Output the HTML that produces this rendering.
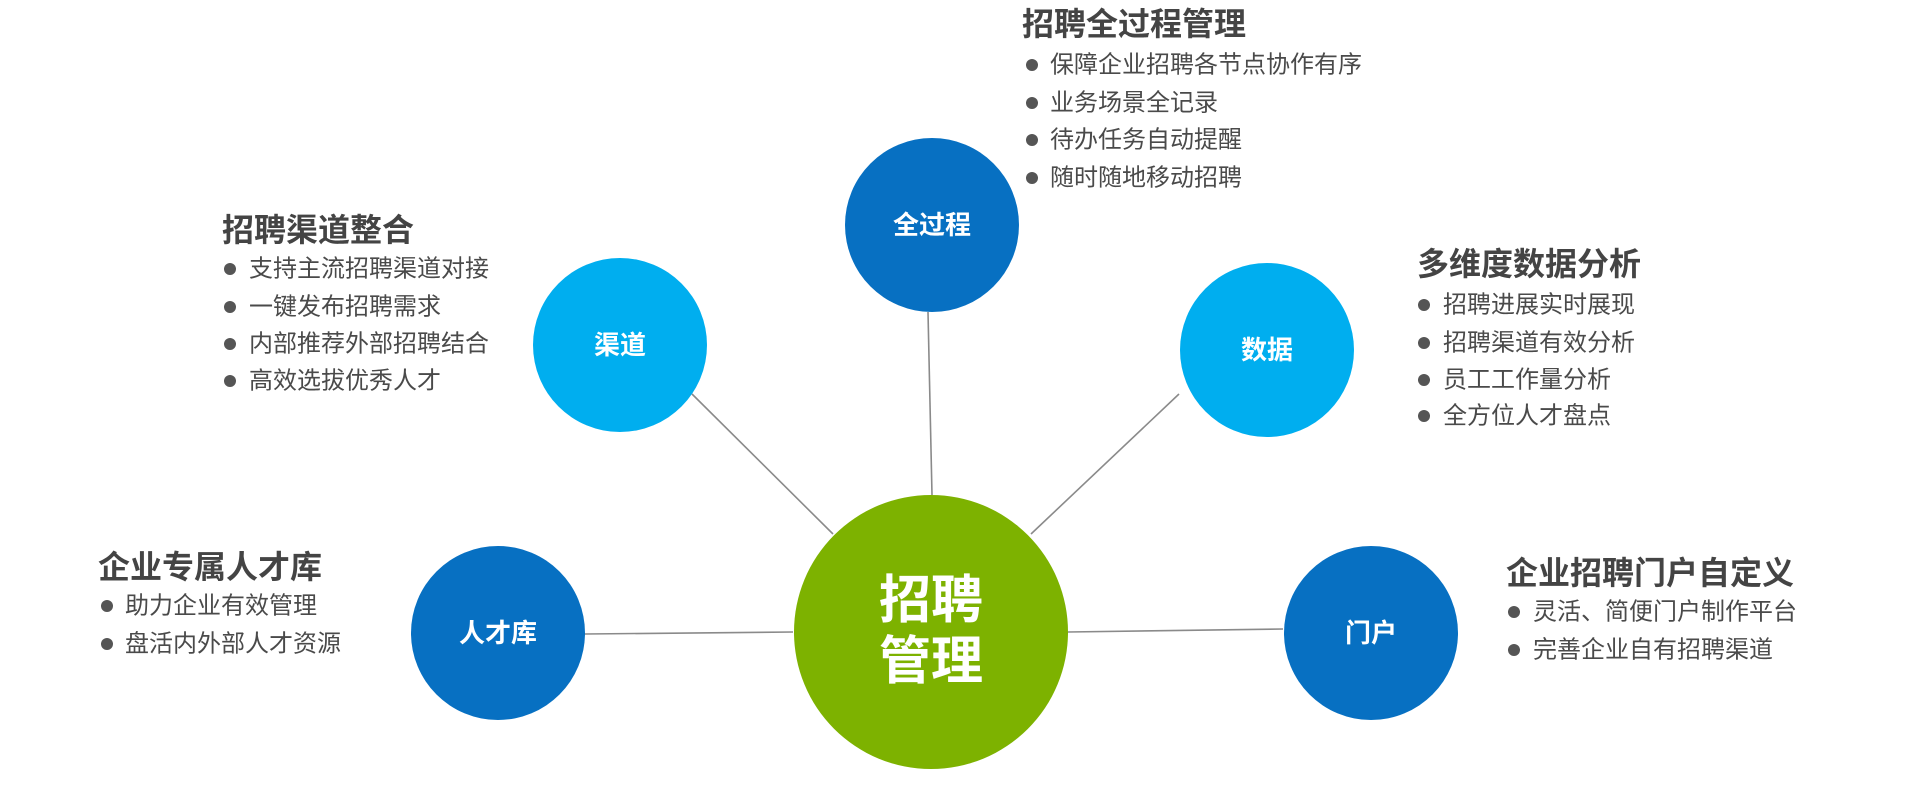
<!DOCTYPE html>
<html><head><meta charset="utf-8"><style>
html,body{margin:0;padding:0;background:#fff;}
svg{display:block;}
text{font-family:"Liberation Sans","Noto Sans CJK SC",sans-serif;}
.t{font-size:32px;font-weight:bold;fill:#444;}
.b{font-size:24px;fill:#4a4a4a;}
.c{font-size:26px;font-weight:bold;fill:#fff;}
</style></head><body>
<svg width="1920" height="786" viewBox="0 0 1920 786" xmlns="http://www.w3.org/2000/svg">
<g stroke="#8a8a8a" stroke-width="1.6">
<line x1="928" y1="312" x2="932" y2="495"/>
<line x1="692" y1="394" x2="833" y2="534"/>
<line x1="1179" y1="394" x2="1031" y2="534"/>
<line x1="585" y1="634" x2="793" y2="632"/>
<line x1="1068" y1="632" x2="1283" y2="629"/>
</g>
<circle cx="931" cy="632" r="137" fill="#7db200"/>
<circle cx="932" cy="225" r="87" fill="#0770c2"/>
<circle cx="620" cy="345" r="87" fill="#00aeef"/>
<circle cx="1267" cy="350" r="87" fill="#00aeef"/>
<circle cx="498" cy="633" r="87" fill="#0770c2"/>
<circle cx="1371" cy="633" r="87" fill="#0770c2"/>
<g text-anchor="middle" dominant-baseline="central">
<text class="c" x="932" y="225">全过程</text>
<text class="c" x="620" y="345">渠道</text>
<text class="c" x="1267" y="350">数据</text>
<text class="c" x="498" y="633">人才库</text>
<text class="c" x="1371" y="633">门户</text>
<text x="931" y="601" style="font-size:52px;font-weight:bold;fill:#fff">招聘</text>
<text x="931" y="662" style="font-size:52px;font-weight:bold;fill:#fff">管理</text>
</g>
<g dominant-baseline="central" fill="#555">
<text class="t" x="1022" y="24">招聘全过程管理</text>
<circle cx="1032" cy="65" r="6"/><text class="b" x="1050" y="65">保障企业招聘各节点协作有序</text>
<circle cx="1032" cy="103" r="6"/><text class="b" x="1050" y="103">业务场景全记录</text>
<circle cx="1032" cy="140" r="6"/><text class="b" x="1050" y="140">待办任务自动提醒</text>
<circle cx="1032" cy="178" r="6"/><text class="b" x="1050" y="178">随时随地移动招聘</text>

<text class="t" x="222" y="230">招聘渠道整合</text>
<circle cx="230" cy="269" r="6"/><text class="b" x="249" y="269">支持主流招聘渠道对接</text>
<circle cx="230" cy="307" r="6"/><text class="b" x="249" y="307">一键发布招聘需求</text>
<circle cx="230" cy="344" r="6"/><text class="b" x="249" y="344">内部推荐外部招聘结合</text>
<circle cx="230" cy="381" r="6"/><text class="b" x="249" y="381">高效选拔优秀人才</text>

<text class="t" x="1417" y="264">多维度数据分析</text>
<circle cx="1424" cy="305" r="6"/><text class="b" x="1443" y="305">招聘进展实时展现</text>
<circle cx="1424" cy="343" r="6"/><text class="b" x="1443" y="343">招聘渠道有效分析</text>
<circle cx="1424" cy="380" r="6"/><text class="b" x="1443" y="380">员工工作量分析</text>
<circle cx="1424" cy="416" r="6"/><text class="b" x="1443" y="416">全方位人才盘点</text>

<text class="t" x="98" y="567">企业专属人才库</text>
<circle cx="107" cy="606" r="6"/><text class="b" x="125" y="606">助力企业有效管理</text>
<circle cx="107" cy="644" r="6"/><text class="b" x="125" y="644">盘活内外部人才资源</text>

<text class="t" x="1506" y="573">企业招聘门户自定义</text>
<circle cx="1514" cy="612" r="6"/><text class="b" x="1533" y="612">灵活、简便门户制作平台</text>
<circle cx="1514" cy="650" r="6"/><text class="b" x="1533" y="650">完善企业自有招聘渠道</text>
</g>
</svg>
</body></html>
